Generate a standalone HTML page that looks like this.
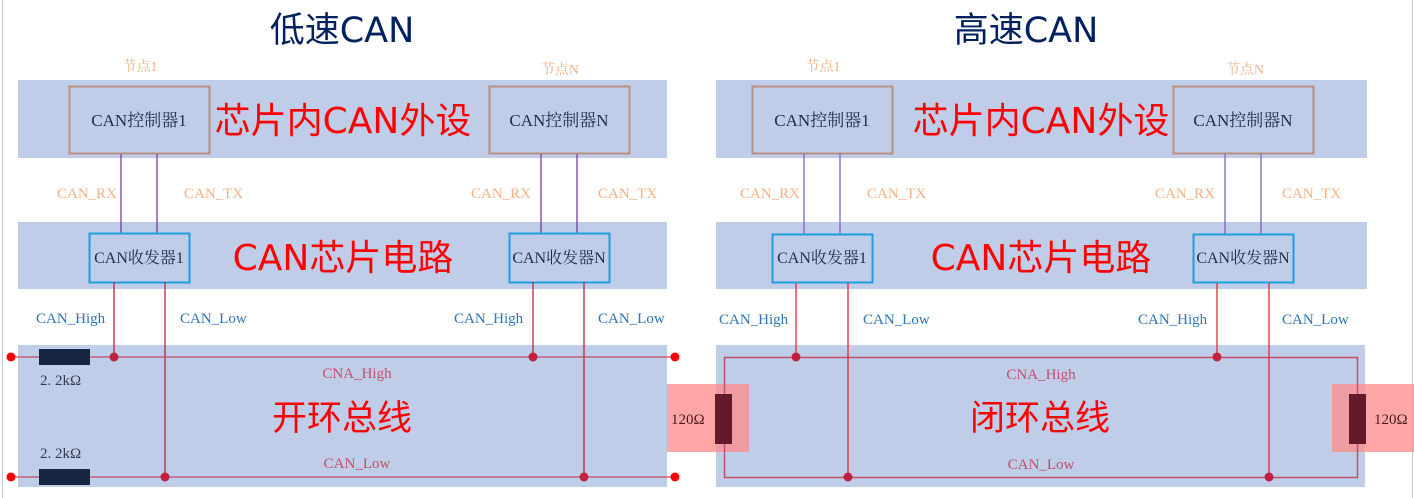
<!DOCTYPE html>
<html><head><meta charset="utf-8"><style>
body{margin:0;background:#fff}
svg{display:block}
.t{font-family:"DejaVu Sans","Noto Sans CJK SC",sans-serif}
.s{font-family:"Liberation Serif","Noto Serif CJK SC",serif}
</style></head><body>
<svg width="1414" height="498" viewBox="0 0 1414 498" xmlns="http://www.w3.org/2000/svg">
<line x1="2.5" y1="0" x2="2.5" y2="498" stroke="#c8c8c8"/>
<line x1="1412.5" y1="0" x2="1412.5" y2="498" stroke="#c8c8c8"/>
<text class="t" x="342" y="42" font-size="35" fill="#002060" text-anchor="middle">低速CAN</text>
<text class="t" x="1026" y="42" font-size="35" fill="#002060" text-anchor="middle">高速CAN</text>

<g>
<rect x="18" y="80" width="649" height="78" fill="#bfcde9"/>
<rect x="18" y="222" width="649" height="67" fill="#bfcde9"/>
<rect x="18" y="345" width="649" height="142" fill="#bfcde9"/>
<text class="s" x="140" y="71" fill="#f4b183" text-anchor="middle" font-size="14">节点1</text>
<text class="s" x="560" y="74" fill="#f4b183" text-anchor="middle" font-size="14">节点N</text>
<rect x="69.5" y="86.5" width="140" height="67" fill="none" stroke="#b88f7f" stroke-width="2"/>
<rect x="489.5" y="86.5" width="140" height="67" fill="none" stroke="#b88f7f" stroke-width="2"/>
<text class="s" x="139" y="126" fill="#1f2d4d" text-anchor="middle" font-size="17">CAN控制器1</text>
<text class="s" x="559" y="126" fill="#1f2d4d" text-anchor="middle" font-size="17">CAN控制器N</text>
<text class="t" x="343" y="133" font-size="36" fill="#ff0000" text-anchor="middle">芯片内CAN外设</text>
<g stroke="#6f3f9f" stroke-width="1.3"><line x1="121" y1="154" x2="121" y2="233"/><line x1="157" y1="154" x2="157" y2="233"/><line x1="541" y1="154" x2="541" y2="233"/><line x1="577" y1="154" x2="577" y2="233"/></g>
<g class="s" fill="#f4b183" font-size="15"><text x="57" y="198">CAN_RX</text><text x="184" y="198">CAN_TX</text><text x="471" y="198">CAN_RX</text><text x="598" y="198">CAN_TX</text></g>
<rect x="89.5" y="233.5" width="100" height="49" fill="#bfcde9" stroke="#1ea0e0" stroke-width="2"/>
<rect x="509.5" y="233.5" width="100" height="49" fill="#bfcde9" stroke="#1ea0e0" stroke-width="2"/>
<text class="s" x="139" y="263" fill="#1f2d4d" text-anchor="middle" font-size="16">CAN收发器1</text>
<text class="s" x="559" y="263" fill="#1f2d4d" text-anchor="middle" font-size="16">CAN收发器N</text>
<text class="t" x="343" y="270" font-size="36" fill="#ff0000" text-anchor="middle">CAN芯片电路</text>
<g class="s" fill="#2e75b6" font-size="15"><text x="36" y="323">CAN_High</text><text x="180" y="323">CAN_Low</text><text x="454" y="323">CAN_High</text><text x="598" y="323">CAN_Low</text></g>
<g stroke="#c0223d" stroke-width="1.3"><line x1="114" y1="282" x2="114" y2="357"/><line x1="165" y1="282" x2="165" y2="477"/><line x1="533" y1="282" x2="533" y2="357"/><line x1="584" y1="282" x2="584" y2="477"/></g>
<g stroke="#c0506a" stroke-width="1.3"><line x1="11" y1="357" x2="675" y2="357"/><line x1="11" y1="477" x2="675" y2="477"/></g>
<rect x="39" y="349" width="51" height="16" fill="#172540"/>
<rect x="39" y="469" width="51" height="16" fill="#172540"/>
<g fill="#ff0000"><circle cx="11" cy="357" r="4.5"/><circle cx="11" cy="477" r="4.5"/><circle cx="675" cy="357" r="4.5"/><circle cx="675" cy="477" r="4.5"/></g>
<g fill="#c0223d"><circle cx="114" cy="357" r="4.5"/><circle cx="165" cy="477" r="4.5"/><circle cx="533" cy="357" r="4.5"/><circle cx="584" cy="477" r="4.5"/></g>
<text class="s" x="40" y="385" fill="#333c50" font-size="15">2. 2kΩ</text>
<text class="s" x="40" y="458" fill="#333c50" font-size="15">2. 2kΩ</text>
<text class="s" x="357" y="378" fill="#c0506a" text-anchor="middle" font-size="15">CNA_High</text>
<text class="s" x="357" y="468" fill="#c0506a" text-anchor="middle" font-size="15">CAN_Low</text>
<text class="t" x="342" y="430" font-size="35" fill="#ff0000" text-anchor="middle">开环总线</text>
</g>

<g>
<rect x="716" y="80" width="651" height="78" fill="#bfcde9"/>
<rect x="716" y="222" width="651" height="67" fill="#bfcde9"/>
<rect x="716" y="345" width="649" height="142" fill="#bfcde9"/>
<text class="s" x="823" y="71" fill="#f4b183" text-anchor="middle" font-size="14">节点1</text>
<text class="s" x="1245" y="74" fill="#f4b183" text-anchor="middle" font-size="14">节点N</text>
<rect x="752.5" y="86.5" width="140" height="67" fill="none" stroke="#b88f7f" stroke-width="2"/>
<rect x="1173.5" y="86.5" width="140" height="67" fill="none" stroke="#b88f7f" stroke-width="2"/>
<text class="s" x="822" y="126" fill="#1f2d4d" text-anchor="middle" font-size="17">CAN控制器1</text>
<text class="s" x="1243" y="126" fill="#1f2d4d" text-anchor="middle" font-size="17">CAN控制器N</text>
<text class="t" x="1041" y="133" font-size="36" fill="#ff0000" text-anchor="middle">芯片内CAN外设</text>
<g stroke="#8060c0" stroke-width="1.3"><line x1="804" y1="154" x2="804" y2="234"/><line x1="840" y1="154" x2="840" y2="234"/><line x1="1225" y1="154" x2="1225" y2="234"/><line x1="1261" y1="154" x2="1261" y2="234"/></g>
<g class="s" fill="#f4b183" font-size="15"><text x="740" y="198">CAN_RX</text><text x="867" y="198">CAN_TX</text><text x="1155" y="198">CAN_RX</text><text x="1282" y="198">CAN_TX</text></g>
<rect x="772.5" y="234.5" width="100" height="48" fill="#bfcde9" stroke="#1ea0e0" stroke-width="2"/>
<rect x="1193.5" y="234.5" width="100" height="48" fill="#bfcde9" stroke="#1ea0e0" stroke-width="2"/>
<text class="s" x="822" y="263" fill="#1f2d4d" text-anchor="middle" font-size="16">CAN收发器1</text>
<text class="s" x="1243" y="263" fill="#1f2d4d" text-anchor="middle" font-size="16">CAN收发器N</text>
<text class="t" x="1041" y="270" font-size="36" fill="#ff0000" text-anchor="middle">CAN芯片电路</text>
<g class="s" fill="#2e75b6" font-size="15"><text x="719" y="324">CAN_High</text><text x="863" y="324">CAN_Low</text><text x="1138" y="324">CAN_High</text><text x="1282" y="324">CAN_Low</text></g>
<rect x="667" y="384" width="82" height="68" fill="#ff8a8a" opacity="0.75"/>
<rect x="1332" y="384" width="82" height="68" fill="#ff8a8a" opacity="0.75"/>
<rect x="724.5" y="357.5" width="633" height="120" fill="none" stroke="#c0506a" stroke-width="1.5"/>
<g stroke="#ee2233" stroke-width="1.3"><line x1="796" y1="283" x2="796" y2="357"/><line x1="848" y1="283" x2="848" y2="477"/><line x1="1217" y1="283" x2="1217" y2="357"/><line x1="1269" y1="283" x2="1269" y2="477"/></g>
<rect x="715" y="394" width="17" height="50" fill="#641a2b"/>
<rect x="1349" y="394" width="17" height="50" fill="#641a2b"/>
<g fill="#c0223d"><circle cx="796" cy="357" r="4.5"/><circle cx="848" cy="477" r="4.5"/><circle cx="1217" cy="357" r="4.5"/><circle cx="1269" cy="477" r="4.5"/></g>
<text class="s" x="671" y="424" fill="#4a1a20" font-size="15">120Ω</text>
<text class="s" x="1374" y="424" fill="#4a1a20" font-size="15">120Ω</text>
<text class="s" x="1041" y="379" fill="#c0506a" text-anchor="middle" font-size="15">CNA_High</text>
<text class="s" x="1041" y="469" fill="#c0506a" text-anchor="middle" font-size="15">CAN_Low</text>
<text class="t" x="1040" y="430" font-size="35" fill="#ff0000" text-anchor="middle">闭环总线</text>
</g>
</svg>
</body></html>
